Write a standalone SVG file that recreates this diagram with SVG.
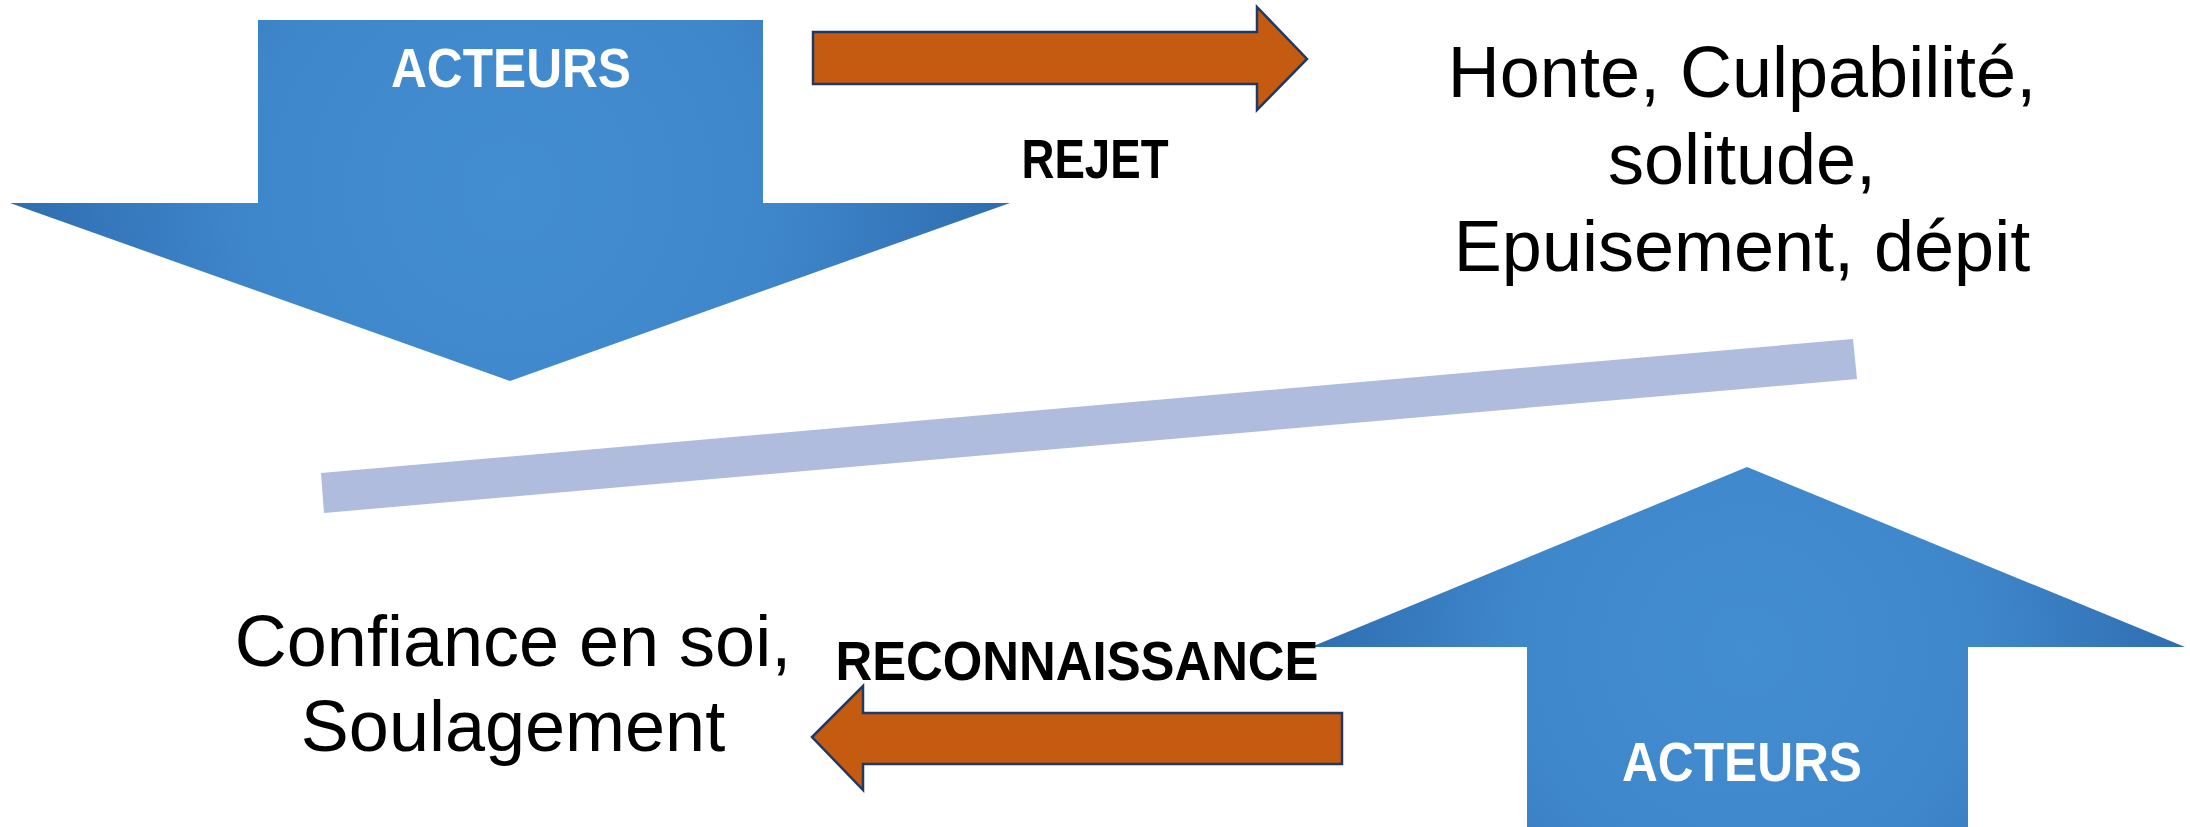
<svg xmlns="http://www.w3.org/2000/svg" width="2190" height="827" viewBox="0 0 2190 827">
<defs>
<radialGradient id="blueDown" gradientUnits="userSpaceOnUse" cx="510" cy="190" r="520">
<stop offset="0" stop-color="#438DD1"/>
<stop offset="0.5" stop-color="#3F87CB"/>
<stop offset="1" stop-color="#2C6BAD"/>
</radialGradient>
<radialGradient id="blueUp" gradientUnits="userSpaceOnUse" cx="1747" cy="650" r="460">
<stop offset="0" stop-color="#438DD1"/>
<stop offset="0.5" stop-color="#3F87CB"/>
<stop offset="1" stop-color="#2C6BAD"/>
</radialGradient>
<style>
.orange{fill:#C55A11;stroke:#1F3864;stroke-width:2.5;stroke-linejoin:miter}
.lbl{font-family:"Liberation Sans",Arial,sans-serif;font-weight:bold;font-size:56px;text-anchor:middle}
.big{font-family:"Liberation Sans",Arial,sans-serif;font-size:72px;fill:#000;text-anchor:middle}
</style>
</defs>
<rect width="2190" height="827" fill="#FFFFFF"/>
<g id="actors-down">
<polygon points="258,20 763,20 763,203 1010,203 510,381 10,203 258,203" fill="url(#blueDown)"/>
<text class="lbl" x="511" y="87" fill="#FFFFFF" textLength="240" lengthAdjust="spacingAndGlyphs">ACTEURS</text>
</g>
<g id="actors-up">
<polygon points="1747,467 2185,647 1968,647 1968,827 1527,827 1527,647 1311,647" fill="url(#blueUp)"/>
<text class="lbl" x="1742" y="781" fill="#FFFFFF" textLength="240" lengthAdjust="spacingAndGlyphs">ACTEURS</text>
</g>
<g id="negative">
<text class="big" x="1742" y="97">Honte, Culpabilité,</text>
<text class="big" x="1742" y="184">solitude,</text>
<text class="big" x="1742" y="271">Epuisement, dépit</text>
</g>
<g id="positive">
<text class="big" x="513" y="666">Confiance en soi,</text>
<text class="big" x="513" y="751">Soulagement</text>
</g>
<g id="connectors">
<polygon class="orange" points="813,32 1257,32 1257,7 1307,59 1257,110 1257,84 813,84"/>
<text class="lbl" x="1095" y="178" fill="#000000" textLength="147" lengthAdjust="spacingAndGlyphs">REJET</text>
<polygon class="orange" points="1342,713 863,713 863,686 812,737 863,790 863,764 1342,764"/>
<text class="lbl" x="1077" y="680" fill="#000000" textLength="483" lengthAdjust="spacingAndGlyphs">RECONNAISSANCE</text>
<polygon id="divider" points="321,473 1853,339 1857,379 324,513" fill="#AFBCDD"/>
</g>
</svg>
